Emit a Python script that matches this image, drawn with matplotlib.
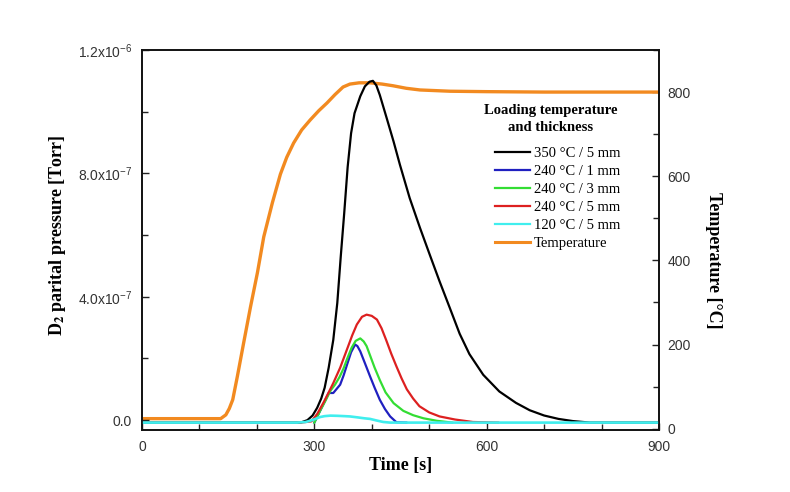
import matplotlib
matplotlib.use("Agg")
import matplotlib.pyplot as plt
from matplotlib.ticker import FixedLocator, MultipleLocator
from matplotlib.lines import Line2D

plt.rcParams["font.family"] = ["Liberation Sans", "DejaVu Sans"]
plt.rcParams["mathtext.fontset"] = "custom"
plt.rcParams["mathtext.rm"] = "Liberation Sans"
plt.rcParams["mathtext.it"] = "Liberation Sans:italic"
plt.rcParams["mathtext.bf"] = "Liberation Sans:bold"
SERIF = ["Liberation Serif", "DejaVu Serif"]

# temperature ramp (right axis, degC)
temp_t = [0, 137, 146, 152, 158, 166, 177, 189, 201, 212, 227, 241, 252, 264, 278,
          293, 308, 322, 336, 350, 362, 378, 397, 418, 437, 460, 484, 536, 600,
          700, 800, 900]
temp_c = [24, 24, 33, 48, 69, 124, 204, 290, 371, 456, 537, 605, 645, 679, 710,
          734, 756, 774, 794, 812, 819, 822, 822, 819, 815, 809, 805, 802, 801,
          800, 800, 800]

# D2 partial pressure curves (left axis, Torr)
black_t = [0, 276, 288, 297, 305, 312, 318, 325, 333, 340, 346, 352, 358, 364, 370,
           380, 388, 396, 402, 408, 414, 426, 438, 449, 466, 484, 501, 518, 536,
           553, 570, 594, 622, 651, 675, 700, 725, 750, 780, 900]
black_p = [-8e-9, -8e-9, 0, 1.5e-8, 4e-8, 7e-8, 1.05e-7, 1.7e-7, 2.6e-7, 3.8e-7,
           5.3e-7, 6.7e-7, 8.2e-7, 9.3e-7, 9.95e-7, 1.05e-6, 1.082e-6, 1.097e-6,
           1.1e-6, 1.085e-6, 1.054e-6, 9.79e-7, 9.03e-7, 8.28e-7, 7.2e-7, 6.23e-7,
           5.36e-7, 4.5e-7, 3.63e-7, 2.8e-7, 2.14e-7, 1.47e-7, 9.3e-8, 5.6e-8,
           3.2e-8, 1.5e-8, 4e-9, -3e-9, -8e-9, -8e-9]

blue_t = [300, 310, 318, 325, 333, 345, 351, 357, 364, 371, 375, 380, 388, 397,
          405, 414, 423, 432, 443, 460]
blue_p = [-8e-9, 3e-8, 6e-8, 8.8e-8, 8.8e-8, 1.15e-7, 1.45e-7, 1.8e-7, 2.2e-7,
          2.45e-7, 2.4e-7, 2.23e-7, 1.85e-7, 1.42e-7, 1.05e-7, 6.6e-8, 3.6e-8,
          1.2e-8, -7e-9, -8e-9]

green_t = [300, 310, 320, 328, 336, 344, 351, 357, 365, 372, 380, 386, 391, 398,
           405, 414, 424, 438, 455, 472, 490, 513, 540]
green_p = [-8e-9, 3e-8, 6.5e-8, 9.5e-8, 1.15e-7, 1.4e-7, 1.68e-7, 1.98e-7,
           2.35e-7, 2.57e-7, 2.65e-7, 2.55e-7, 2.4e-7, 2.05e-7, 1.7e-7, 1.3e-7,
           9e-8, 5.5e-8, 3e-8, 1.6e-8, 6e-9, -2e-9, -8e-9]

red_t = [276, 295, 305, 316, 325, 333, 345, 357, 366, 374, 383, 391, 400, 409,
         417, 425, 434, 443, 452, 461, 472, 483, 500, 518, 545, 576, 620]
red_p = [-8e-9, -4e-9, 2e-8, 5.7e-8, 9e-8, 1.2e-7, 1.7e-7, 2.3e-7, 2.75e-7,
         3.1e-7, 3.35e-7, 3.42e-7, 3.38e-7, 3.26e-7, 2.98e-7, 2.6e-7, 2.15e-7,
         1.74e-7, 1.35e-7, 1.0e-7, 7e-8, 4.5e-8, 2.5e-8, 1.2e-8, 2e-9, -6e-9,
         -8e-9]

cyan_t = [0, 270, 285, 293, 302, 310, 318, 328, 340, 352, 362, 375, 387, 397,
          408, 420, 432, 900]
cyan_p = [-8e-9, -8e-9, -6e-9, -2e-9, 4e-9, 1e-8, 1.3e-8, 1.46e-8, 1.4e-8,
          1.3e-8, 1.2e-8, 9e-9, 6e-9, 4e-9, -1e-9, -6e-9, -8e-9, -8e-9]

legend_title = "Loading temperature\nand thickness"
labels = ["350 \u00b0C / 5 mm", "240 \u00b0C / 1 mm", "240 \u00b0C / 3 mm",
          "240 \u00b0C / 5 mm", "120 \u00b0C / 5 mm", "Temperature"]
colors = ["#000000", "#2020c0", "#33dd33", "#dd2020", "#40eeee", "#f28a20"]

p_ticks = [0, 4e-7, 8e-7, 1.2e-6]
p_tick_labels = ["0.0", "4.0x10$^{-7}$", "8.0x10$^{-7}$", "1.2x10$^{-6}$"]
t_ticks = [0, 300, 600, 900]
temp_ticks = [0, 200, 400, 600, 800]

fig = plt.figure(figsize=(7.9, 4.92), dpi=100)
ax = fig.add_axes([0.1797, 0.126, 0.6545, 0.7724])
ax2 = ax.twinx()
ax.set_zorder(ax2.get_zorder() + 1)
ax.patch.set_visible(False)

ax2.plot(temp_t, temp_c, color=colors[5], lw=2.4, solid_capstyle="round")
series = [(black_t, black_p), (blue_t, blue_p), (green_t, green_p),
          (red_t, red_p), (cyan_t, cyan_p)]
for (tt, pp), col in zip(series, colors[:5]):
    ax.plot(tt, pp, color=col, lw=1.6 if col != "#40eeee" else 1.9)

ax.set_xlim(0, 900)
ax.set_ylim(-3.2e-8, 1.2e-6)
ax2.set_ylim(-3, 900)

ax.xaxis.set_major_locator(FixedLocator(t_ticks))
ax.xaxis.set_minor_locator(MultipleLocator(100))
ax.yaxis.set_major_locator(FixedLocator(p_ticks))
ax.set_yticklabels(p_tick_labels)
ax.yaxis.set_minor_locator(MultipleLocator(2e-7))
ax2.yaxis.set_major_locator(FixedLocator(temp_ticks))
ax2.yaxis.set_minor_locator(MultipleLocator(100))

ax.tick_params(axis="both", which="both", direction="in", labelsize=10,
               width=1, colors="#222222", labelcolor="#333333")
ax.tick_params(which="major", length=5, pad=7)
ax.tick_params(which="minor", length=4)
ax.tick_params(top=False, right=False)
ax2.tick_params(axis="y", which="both", direction="in", labelsize=10, width=1,
                colors="#222222", labelcolor="#333333", pad=6)
ax2.tick_params(which="major", length=5)
ax2.tick_params(which="minor", length=4)
for a in (ax, ax2):
    for s in a.spines.values():
        s.set_linewidth(1.2)
        s.set_color("#111111")

ax.set_xlabel("Time [s]", family=SERIF, fontsize=13, fontweight="bold",
              labelpad=2)
ylab = ax.set_ylabel(r"D$_\mathbf{2}$ parital pressure [Torr]", family=SERIF,
                     fontsize=13, fontweight="bold")
ylab.set_math_fontfamily("stix")
ax.yaxis.set_label_coords(-0.143, 0.513)
ax2.set_ylabel("Temperature [\u00b0C]", family=SERIF, fontsize=13,
               fontweight="bold", rotation=270, va="bottom")
ax2.yaxis.set_label_coords(1.089, 0.447)

# legend title drawn separately so its gap to the entries matches
ax.text(0.791, 0.818, legend_title, transform=ax.transAxes, ha="center",
        va="center", family=SERIF, fontsize=10.5, fontweight="bold",
        linespacing=1.4, multialignment="center")
handles = [Line2D([], [], color=c, lw=2.2 if i == 5 else 1.6)
           for i, c in enumerate(colors)]
ax.legend(handles, labels, loc="upper right", bbox_to_anchor=(0.936, 0.760),
          frameon=False, borderaxespad=0, handlelength=2.4,
          handletextpad=0.25, labelspacing=0.33,
          prop={"family": SERIF, "size": 10.5})

fig.savefig("out.png", dpi=100)
